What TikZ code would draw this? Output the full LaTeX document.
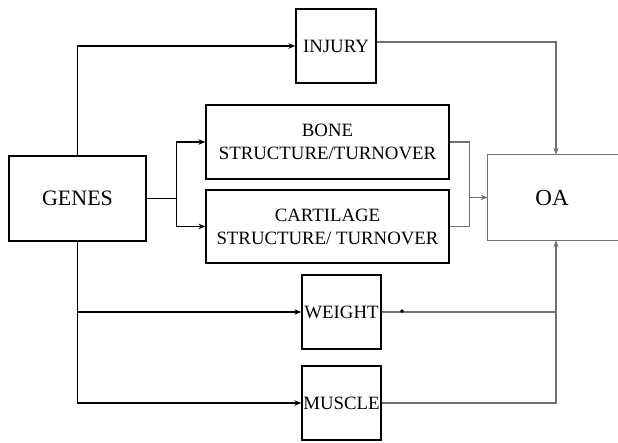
\documentclass[tikz,border=0pt]{standalone}
\usepackage{fontspec}
\setmainfont{Liberation Serif}
\newfontfamily\timesfont{Liberation Serif}
\usetikzlibrary{arrows.meta}
\definecolor{outgray}{HTML}{707070}
\begin{document}
\begin{tikzpicture}[x=1pt,y=-1pt,
  box/.style={draw=black,line width=1.3pt,rectangle,inner sep=0pt,align=center,
    font=\timesfont\fontsize{18.8}{23}\selectfont},
  blk/.style={draw=black,line width=1.3pt,-{Stealth[length=7pt,width=5.5pt]}},
  blkline/.style={draw=black,line width=1.3pt},
  gl/.style={draw=outgray,line width=1.1pt},
  glarrow/.style={draw=outgray,line width=1.1pt,-{Stealth[length=7pt,width=5pt]}}]
\useasboundingbox (0,0) rectangle (618,442);
\fill[white] (0,0) rectangle (618,442);
% nodes
\node[box,minimum width=137pt,minimum height=85pt,font=\timesfont\fontsize{22}{26}\selectfont] (genes) at (77.5,198.5) {GENES};
\node[box,minimum width=80pt,minimum height=74pt] (injury) at (336,46) {INJURY};
\node[box,minimum width=243pt,minimum height=74pt] (bone) at (327.5,142) {BONE\\STRUCTURE/TURNOVER};
\node[box,minimum width=243pt,minimum height=73pt] (cart) at (327.5,226.5) {CARTILAGE\\STRUCTURE/ TURNOVER};
\node[box,minimum width=79pt,minimum height=74pt] (weight) at (341.5,312) {WEIGHT};
\node[box,minimum width=79pt,minimum height=74pt] (muscle) at (341.5,403) {MUSCLE};
\node[rectangle,inner sep=0pt,minimum width=128pt,minimum height=85pt,font=\timesfont\fontsize{23}{27}\selectfont] (oa) at (552,197.5) {OA};
\draw[gl] ([xshift=4pt]oa.north east) -- (oa.north west) -- (oa.south west) -- ([xshift=4pt]oa.south east);
% left (black) connectors
\draw[blk] (genes.north) |- (injury.west);
\path (genes.east) ++(30,0) coordinate (split);
\draw[blkline] (genes.east) -- (split);
\draw[blk] (split) |- (bone.west);
\draw[blk] (split) |- (cart.west);
\draw[blk] (genes.south) |- (muscle.west);
\draw[blk] (genes.south |- weight.west) -- (weight.west);
% right (gray) connectors
\path (oa.north) ++(4,0) coordinate (oatop);
\path (oa.south) ++(4,0) coordinate (oabot);
\draw[glarrow] ([yshift=4pt]injury.east) -| (oatop);
\path (bone.east) ++(20,0) coordinate (bj);
\draw[gl] (bone.east) -- (bj) |- (cart.east);
\draw[glarrow] (bj |- oa.west) -- (oa.west);
\draw[glarrow] (muscle.east) -| (oabot);
\draw[gl] (weight.east) -- (weight.east -| oabot);
\fill[black] (402,311) circle (1.8);
\end{tikzpicture}
\end{document}
